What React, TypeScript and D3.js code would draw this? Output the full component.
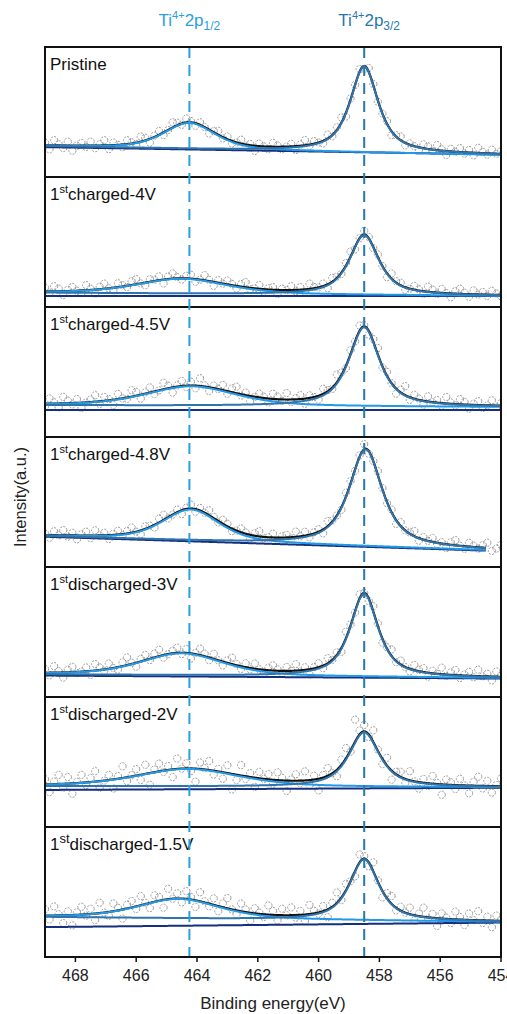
import React from 'react';
import * as d3 from 'd3';

const W = 507;
const H = 1014;
const plotLeft = 45;
const plotRight = 501;
const plotTop = 47;
const panelH = 130;

// Ti 2p spectra, one panel per electrode state
const panelNames = ['Pristine', 'charged-4V', 'charged-4.5V', 'charged-4.8V', 'discharged-3V', 'discharged-2V', 'discharged-1.5V'];
const cycleTag = [false, true, true, true, true, true, true];

const energyTicks = [468, 466, 464, 462, 460, 458, 456, 454];
const peakMarks = [464.25, 458.5];

// fitted background (under the components), value at 469 eV and at the fit end
const fitBgStart = [23.8, 11, 24.5, 23.8, 17.5, 31.5, 30.8];
const fitBgEnd = [16.9, 8.5, 23, 13, 14.6, 30.5, 27];
// linear background line
const linBgStart = [23, 8.5, 20.8, 23.3, 16.5, 28.5, 23];
const linBgEnd = [17.3, 8.5, 20.8, 12.6, 14.2, 30.2, 26.5];
const fitEnd = [454, 454, 454, 454.5, 454, 454, 454];

// Ti4+ 2p1/2 component
const p12Center = [464.25, 464.5, 464.2, 464.2, 464.5, 464.3, 464.6];
const p12Height = [20, 11.5, 15, 24, 17, 13.5, 15];
const p12Fwhm = [2.0, 3.5, 3.5, 2.2, 3.2, 4.0, 3.2];
// Ti4+ 2p3/2 component
const p32Center = [458.5, 458.5, 458.5, 458.45, 458.5, 458.5, 458.5];
const p32Height = [66, 46, 61, 74.5, 64, 42, 47];
const p32Fwhm = [1.1, 1.15, 1.2, 1.3, 1.1, 1.2, 1.15];

// measured points: deviation from the envelope, 469 → 454 eV in 0.15 eV steps
const residPristine = `2 -3 4 1 -2 3 -4 0 2 -1 3 -2 1 4 -3 2 0 -2 3 1 -1 4 2 -3 1 3 -2 0 4 2 -1 3 1 -2 2 0 -3 1 3 -1 2 -2 0 3 -1 1 -4 2 0 -2 3 1 -2 0 2 -3 1 4 -1 2 0 -2 3 -1 2 4 -3 1 0 2 -2 3 1 -1 0 2 -3 1 3 -2 1 0 -2 3 2 -1 4 1 -3 2 0 3 -1 2 -2 4 1 -1 3 0 2`;
const resid4V = `3 -1 4 2 -3 1 3 0 -2 4 1 -3 2 4 0 -2 3 1 -1 3 4 0 -2 2 1 3 -3 2 4 1 -1 2 3 -2 0 4 1 -3 2 0 3 1 -2 2 4 -1 0 3 -2 1 2 -3 1 0 3 -1 2 -2 4 1 0 2 -3 3 1 -1 2 4 -2 0 3 1 -1 2 0 -3 4 1 2 -2 0 3 1 -2 4 2 -1 3 0 -3 2 4 1 -2 3 0 2 -1 3 1 -1`;
const resid45V = `-2 4 1 -3 5 2 -1 3 -4 0 2 5 -2 3 1 -4 4 0 -1 5 3 -3 1 4 -2 0 5 2 -4 1 4 -1 3 -2 6 1 -3 2 0 4 -2 3 5 -1 2 -4 0 3 1 -3 4 2 -1 5 -2 1 3 -4 2 0 -3 4 1 -1 6 2 -2 3 0 4 1 -3 2 5 -1 3 0 -4 2 7 -2 3 1 -3 4 0 2 -2 5 1 -1 4 2 -3 1 3 -2 0 4 -1 2`;
const resid48V = `1 -2 3 0 4 -1 2 -3 1 3 -2 4 0 2 -3 1 3 -1 2 4 0 -3 2 1 -2 3 4 -1 0 2 -3 1 3 -2 2 0 4 1 -1 3 2 -2 0 3 1 -3 2 4 -1 0 3 -2 1 2 -1 4 0 3 -2 1 2 -3 4 1 0 -2 3 2 -1 1 4 -2 0 3 1 -1 2 -3 3 0 1 4 -2 2 0 3 -1 1 -3 2 4 0 -2 3 1 -1 2 4 -2 0 3`;
const resid3V = `3 -2 5 1 -4 2 4 -1 0 3 -3 5 2 -1 4 0 -2 3 6 1 -3 2 4 -1 3 5 -2 0 2 4 -1 3 -4 1 5 2 -2 4 0 -3 2 5 1 -2 3 -1 4 0 -3 2 4 1 -2 3 0 5 -1 2 -4 1 3 -2 4 0 2 -3 5 1 -1 3 0 -2 4 2 -3 1 5 -1 3 0 -2 4 1 3 -3 2 0 5 -1 2 4 -2 1 3 -1 5 0 2 -3 4 1`;
const resid2V = `4 -6 2 7 -3 5 -8 1 6 -2 3 8 -5 0 4 -7 2 9 -3 1 5 -4 7 -9 2 6 -1 3 -6 8 0 4 -2 -10 5 1 7 -3 2 -5 6 -12 -4 8 -2 3 -7 5 0 4 -3 6 2 -8 1 5 -2 7 -4 3 -9 2 6 0 -5 4 8 -1 17 3 5 -2 9 1 -4 6 -7 2 4 -3 7 0 -5 3 -2 6 1 -8 4 2 -3 5 0 -6 3 7 -2 4 -5 1 6`;
const resid15V = `5 -3 7 1 -6 3 -8 2 6 -1 4 -5 8 0 -3 6 2 -7 3 5 -2 7 1 -4 5 3 -6 8 0 4 -3 6 2 -5 7 1 -2 5 -4 3 8 0 -3 6 2 -6 4 1 -2 7 3 -4 5 0 6 -2 3 -5 7 2 -1 4 -6 3 8 -2 5 0 -4 6 2 -3 7 1 -5 4 6 -2 3 0 5 -4 2 7 -1 3 -6 4 1 -3 6 2 -4 5 0 7 -2 3 -5 4 1`;
const residuals = [residPristine, resid4V, resid45V, resid48V, resid3V, resid2V, resid15V];

const energyStart = 469;
const energyStep = 0.15;

const ETA_12 = 0.5;
const ETA_32 = 0.8;

function pseudoVoigt(e: number, c: number, h: number, w: number, eta: number) {
  const t = (e - c) / w;
  const lor = 1 / (1 + 4 * t * t);
  const gau = Math.exp(-4 * Math.LN2 * t * t);
  return h * (eta * lor + (1 - eta) * gau);
}

function lineAt(e: number, a: number, b: number, end: number) {
  return a + ((energyStart - e) / (energyStart - end)) * (b - a);
}

const x = d3.scaleLinear().domain([469, 454]).range([plotLeft, plotRight]);

const FONT = "'Liberation Sans', Arial, Helvetica, sans-serif";

function Panel({ i }: { i: number }) {
  const top = plotTop + i * panelH;
  const y = d3.scaleLinear().domain([0, 100]).range([top + panelH, top]);

  const fitBg = (e: number) => lineAt(e, fitBgStart[i], fitBgEnd[i], fitEnd[i]);
  const linBg = (e: number) => lineAt(e, linBgStart[i], linBgEnd[i], fitEnd[i]);
  const c12 = (e: number) => pseudoVoigt(e, p12Center[i], p12Height[i], p12Fwhm[i], ETA_12);
  const c32 = (e: number) => pseudoVoigt(e, p32Center[i], p32Height[i], p32Fwhm[i], ETA_32);
  const envelope = (e: number) => fitBg(e) + c12(e) + c32(e);

  const fitGrid = d3.range(energyStart, fitEnd[i] - 0.001, -0.02);
  const path = (f: (e: number) => number) =>
    d3.line<number>().x((e) => x(e)).y((e) => y(f(e))).curve(d3.curveLinear)(fitGrid) || '';

  const resid = residuals[i].trim().split(/\s+/).map(Number);
  const points = resid.map((r, k) => {
    const e = energyStart - k * energyStep;
    return { e, v: envelope(e) + r };
  });

  const clipId = `panel-clip-${i}`;
  return (
    <g>
      <defs>
        <clipPath id={clipId}>
          <rect x={plotLeft} y={top} width={plotRight - plotLeft} height={panelH} />
        </clipPath>
      </defs>
      <g clipPath={`url(#${clipId})`}>
        {points.map((p, k) => (
          <circle
            key={k}
            cx={x(p.e)}
            cy={y(p.v)}
            r={3.6}
            fill="none"
            stroke="#8c8c8c"
            strokeWidth={0.9}
            strokeDasharray="2 1.3"
          />
        ))}
        <path d={path(linBg)} fill="none" stroke="#14307f" strokeWidth={2} />
        <path d={path(envelope)} fill="none" stroke="#111" strokeWidth={2.2} />
        <path d={path((e) => fitBg(e) + c12(e))} fill="none" stroke="#2399e6" strokeWidth={2} />
        <path d={path((e) => fitBg(e) + c32(e))} fill="none" stroke="#2f74ad" strokeWidth={2} />
      </g>
      <text x={50} y={top + 23} fontFamily={FONT} fontSize={17} fill="#111">
        {cycleTag[i] ? (
          <>
            <tspan>1</tspan>
            <tspan dy={-7} fontSize={i === 6 ? 13 : 11}>st</tspan>
            <tspan dy={7}>{panelNames[i]}</tspan>
          </>
        ) : (
          panelNames[i]
        )}
      </text>
      {i > 0 && (
        <line x1={plotLeft} x2={plotRight} y1={top} y2={top} stroke="#111" strokeWidth={1.8} />
      )}
    </g>
  );
}

export default function App() {
  const axisY = plotTop + panelNames.length * panelH;
  const markColors = ['#2ba0dc', '#2a77aa'];
  return (
    <svg
      width={W}
      height={H}
      viewBox={`0 0 ${W} ${H}`}
      style={{ position: 'absolute', left: 0, top: 0, background: '#fff' }}
    >
      <rect x={0} y={0} width={W} height={H} fill="#fff" />
      {panelNames.map((_, i) => (
        <Panel key={i} i={i} />
      ))}

      {peakMarks.map((e, k) => (
        <line
          key={k}
          x1={x(e)}
          x2={x(e)}
          y1={plotTop}
          y2={axisY}
          stroke={markColors[k]}
          strokeWidth={2}
          strokeDasharray="11 7"
        />
      ))}

      <rect
        x={plotLeft}
        y={plotTop}
        width={plotRight - plotLeft}
        height={axisY - plotTop}
        fill="none"
        stroke="#111"
        strokeWidth={2}
      />

      {energyTicks.map((t) => (
        <g key={t}>
          <line x1={x(t)} x2={x(t)} y1={axisY} y2={axisY + 5} stroke="#111" strokeWidth={1.5} />
          <text x={x(t)} y={axisY + 24} textAnchor="middle" fontFamily={FONT} fontSize={16} fill="#222">
            {t}
          </text>
        </g>
      ))}

      <text x={(plotLeft + plotRight) / 2} y={1009} textAnchor="middle" fontFamily={FONT} fontSize={17} fill="#222">
        Binding energy(eV)
      </text>
      <text
        transform={`translate(26,497) rotate(-90)`}
        textAnchor="middle"
        fontFamily={FONT}
        fontSize={16.5}
        fill="#222"
      >
        Intensity(a.u.)
      </text>

      <text x={x(peakMarks[0])} y={26} textAnchor="middle" fontFamily={FONT} fontSize={17} fill={markColors[0]}>
        <tspan>Ti</tspan>
        <tspan dy={-7} fontSize={11}>4+</tspan>
        <tspan dy={7}>2p</tspan>
        <tspan dy={4} fontSize={12}>1/2</tspan>
      </text>
      <text x={x(peakMarks[1]) + 5} y={26} textAnchor="middle" fontFamily={FONT} fontSize={17} fill={markColors[1]}>
        <tspan>Ti</tspan>
        <tspan dy={-7} fontSize={11}>4+</tspan>
        <tspan dy={7}>2p</tspan>
        <tspan dy={4} fontSize={12}>3/2</tspan>
      </text>
    </svg>
  );
}
